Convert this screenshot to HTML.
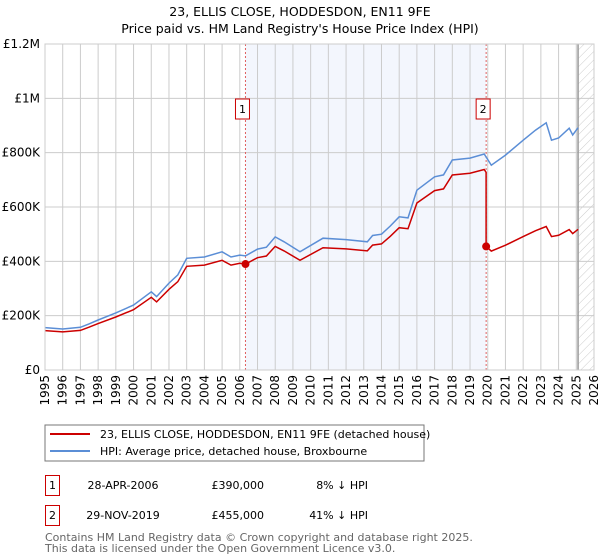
<!DOCTYPE html>
<html><head><meta charset="utf-8"><style>
body{margin:0;background:#fff;}
svg{display:block;font-family:"DejaVu Sans","Liberation Sans",sans-serif;}
</style></head><body>
<svg id="chart" width="600" height="560" viewBox="0 0 600 560">
<defs><pattern id="hatch" width="6" height="6" patternUnits="userSpaceOnUse" patternTransform="rotate(45)"><line x1="0" y1="0" x2="0" y2="6" stroke="#ccc" stroke-width="1"/></pattern></defs>
<text x="300" y="16" text-anchor="middle" font-size="12.5" fill="#000">23, ELLIS CLOSE, HODDESDON, EN11 9FE</text>
<text x="300" y="33" text-anchor="middle" font-size="12.5" fill="#000">Price paid vs. HM Land Registry's House Price Index (HPI)</text>
<g id="plot"></g>
<g>
<rect x="45" y="425" width="379" height="36" fill="#fff" stroke="#777" stroke-width="1"/>
<line x1="50" y1="434" x2="90" y2="434" stroke="#cc0000" stroke-width="2"/>
<text x="100" y="438" font-size="11">23, ELLIS CLOSE, HODDESDON, EN11 9FE (detached house)</text>
<line x1="50" y1="451" x2="90" y2="451" stroke="#5b8ed6" stroke-width="2"/>
<text x="100" y="455" font-size="11">HPI: Average price, detached house, Broxbourne</text>
</g>
<g font-size="11">
<rect x="45.5" y="475.5" width="14" height="20" fill="#fff" stroke="#cc0000"/>
<text x="52.5" y="489" text-anchor="middle">1</text>
<text x="123" y="489" text-anchor="middle">28-APR-2006</text>
<text x="264" y="489" text-anchor="end">£390,000</text>
<text x="368" y="489" text-anchor="end">8% ↓ HPI</text>
<rect x="45.5" y="505.5" width="14" height="20" fill="#fff" stroke="#cc0000"/>
<text x="52.5" y="519" text-anchor="middle">2</text>
<text x="123" y="519" text-anchor="middle">29-NOV-2019</text>
<text x="264" y="519" text-anchor="end">£455,000</text>
<text x="368" y="519" text-anchor="end">41% ↓ HPI</text>
</g>
<text x="45" y="541" font-size="11" fill="#666">Contains HM Land Registry data © Crown copyright and database right 2025.</text>
<text x="45" y="552" font-size="11" fill="#666">This data is licensed under the Open Government Licence v3.0.</text>
</svg>
<script>
const hpiYears=[1995,1996,1997,1997.5,1998,1999,2000,2001,2001.3,2002,2002.5,2003,2004,2005,2005.5,2006,2006.32,2007,2007.5,2008,2008.5,2009.4,2010.7,2012,2013.2,2013.5,2014,2014.5,2015,2015.5,2016,2017,2017.5,2018,2019,2019.8,2020.2,2021,2022,2022.7,2023.3,2023.6,2024,2024.6,2024.8,2025.1];
const hpiValues=[156000,151000,157000,170000,184000,210000,239000,288000,270000,320000,350000,411000,416000,435000,416000,423000,420000,445000,452000,490000,472000,435000,485000,480000,472000,495000,500000,530000,564000,560000,662000,711000,718000,773000,780000,795000,754000,791000,846000,883000,910000,846000,854000,890000,865000,892000];
const saleYears=[2006.32,2019.91];
const salePrices=[390000,455000];
const yTicks=[0,200000,400000,600000,800000,1000000,1200000];
const yTickLabels=["£0","£200K","£400K","£600K","£800K","£1M","£1.2M"];
const xTicks=[1995,1996,1997,1998,1999,2000,2001,2002,2003,2004,2005,2006,2007,2008,2009,2010,2011,2012,2013,2014,2015,2016,2017,2018,2019,2020,2021,2022,2023,2024,2025,2026];

const NS="http://www.w3.org/2000/svg";
const L=45,R=594,T=44,B=370;
const X=y=>L+(y-1995)*(R-L)/31;
const Y=v=>B-v*(B-T)/1200000;
const g=document.getElementById('plot');
function mk(tag,attrs,parent){const e=document.createElementNS(NS,tag);for(const k in attrs)e.setAttribute(k,attrs[k]);(parent||g).appendChild(e);return e;}
function hpiAt(t){for(let i=0;i<hpiYears.length-1;i++){if(t>=hpiYears[i]&&t<=hpiYears[i+1]){const f=(t-hpiYears[i])/(hpiYears[i+1]-hpiYears[i]);return hpiValues[i]+f*(hpiValues[i+1]-hpiValues[i]);}}return hpiValues[hpiValues.length-1];}

let sh=mk('rect',{x:X(saleYears[0]),y:T,width:X(saleYears[1])-X(saleYears[0]),height:B-T,fill:'#f3f6fd'});


let ht=mk('rect',{x:X(2025.1),y:T,width:R-X(2025.1),height:B-T,fill:'url(#hatch)'});


xTicks.forEach(t=>{
  let l=mk('line',{x1:X(t),x2:X(t),y1:T,y2:B,stroke:'#ccc','stroke-width':1});
  
  
  let tx=mk('text',{x:0,y:0,'font-size':12,'text-anchor':'end',transform:`translate(${X(t)+4},${B+5}) rotate(-90)`});
  tx.textContent=t;
  
  
});
yTicks.forEach((v,i)=>{
  let l=mk('line',{x1:L,x2:R,y1:Y(v),y2:Y(v),stroke:'#ccc','stroke-width':1});
  
  
  let tx=mk('text',{x:40,y:Y(v)+4,'font-size':12,'text-anchor':'end'});
  tx.textContent=yTickLabels[i];
  
  
});
let vl=mk('line',{x1:X(2025.1),x2:X(2025.1),y1:T,y2:B,stroke:'#999','stroke-width':1.5});


saleYears.forEach((s,i)=>{
  let l=mk('line',{x1:X(s),x2:X(s),y1:T,y2:B,stroke:'#e06060','stroke-width':1,'stroke-dasharray':'2,2'});
  
  
  let bx=mk('rect',{x:X(s)-10,y:99,width:14,height:20,fill:'#fff',stroke:'#cc0000'});
  
  
  let t=mk('text',{x:X(s)-3,y:113,'font-size':11,'text-anchor':'middle'});
  t.textContent=String(i+1);
  
  
});
// HPI line
let hp=hpiYears.map((t,i)=>`${X(t).toFixed(1)},${Y(hpiValues[i]).toFixed(1)}`).join(' ');
let hl=mk('polyline',{points:hp,fill:'none',stroke:'#5b8ed6','stroke-width':1.5});


// Property line (HPI indexed to sale prices)
const r1=salePrices[0]/hpiAt(saleYears[0]), r2=salePrices[1]/hpiAt(saleYears[1]);
let pts=[];
hpiYears.forEach((t,i)=>{if(t<saleYears[1])pts.push([t,hpiValues[i]*r1]);});
pts.push([saleYears[1],hpiAt(saleYears[1])*r1]);
pts.push([saleYears[1],salePrices[1]]);
hpiYears.forEach((t,i)=>{if(t>saleYears[1])pts.push([t,hpiValues[i]*r2]);});
let pl=mk('polyline',{points:pts.map(p=>`${X(p[0]).toFixed(1)},${Y(p[1]).toFixed(1)}`).join(' '),fill:'none',stroke:'#cc0000','stroke-width':1.5});


saleYears.forEach((s,i)=>{
  let c=mk('circle',{cx:X(s),cy:Y(salePrices[i]),r:4,fill:'#cc0000'});
  
  
});
let ax=mk('rect',{x:L,y:T,width:R-L,height:B-T,fill:'none',stroke:'#ccc'});


</script>
</body></html>
